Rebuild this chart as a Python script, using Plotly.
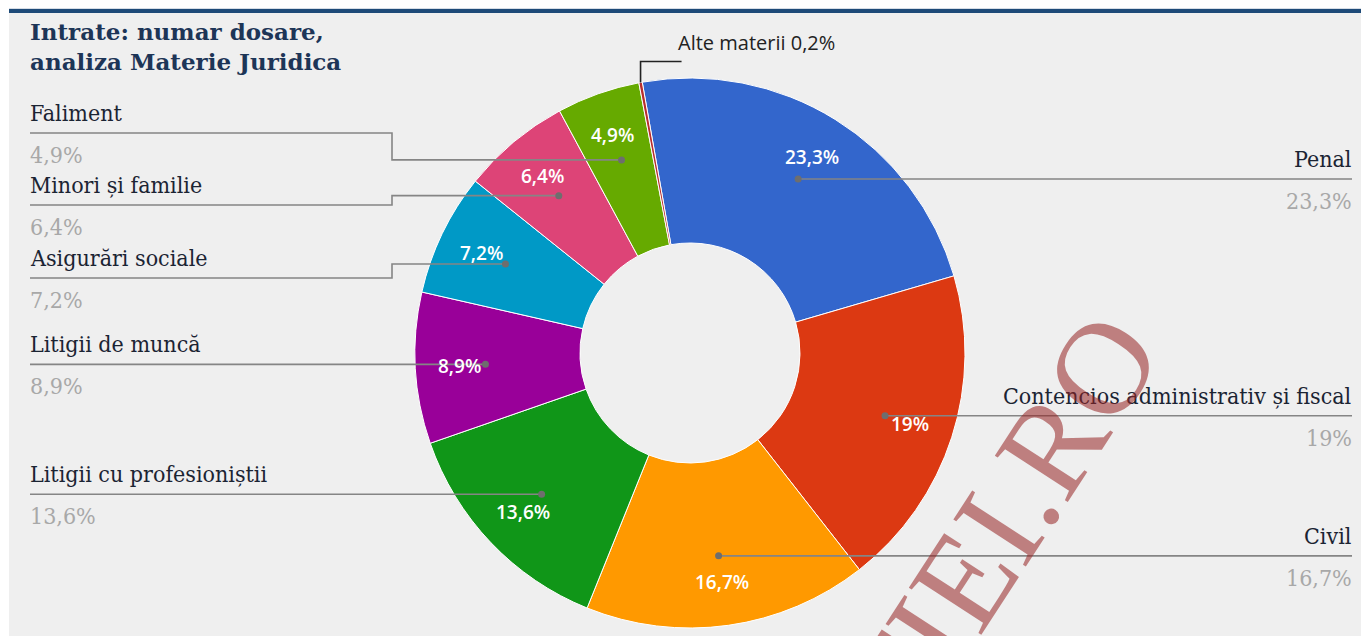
import math
import plotly.graph_objects as go

# ---- data -------------------------------------------------------------
categories = [
    "Penal",
    "Contencios administrativ și fiscal",
    "Civil",
    "Litigii cu profesioniștii",
    "Litigii de muncă",
    "Asigurări sociale",
    "Minori și familie",
    "Faliment",
    "Alte materii",
]
values = [23.3, 19, 16.7, 13.6, 8.9, 7.2, 6.4, 4.9, 0.2]
colors = ["#3366cc", "#dc3912", "#ff9900", "#109618", "#990099",
          "#0099c6", "#dd4477", "#66aa00", "#b82e2e"]

title_lines = ["Intrate: numar dosare,", "analiza Materie Juridica"]
watermark = "LUMEAJUSTITIEI.RO"

# ---- label arrangement --------------------------------------------------
right_labels = ["Penal", "Contencios administrativ și fiscal", "Civil"]
left_labels = ["Faliment", "Minori și familie", "Asigurări sociale",
               "Litigii de muncă", "Litigii cu profesioniștii"]
small_label = "Alte materii"
# label rows that are shifted away from their slice to avoid overlaps (px)
left_row_y = {"Faliment": 133, "Minori și familie": 205, "Asigurări sociale": 278}

# ---- geometry (pixels) --------------------------------------------------
W, H = 1361, 636
CX, CY, R = 690, 353, 275
HOLE = 0.4
START_ANGLE = -10
DOT_R = 0.745 * R
TEXT_R = 0.84 * R
LEFT_X, RIGHT_X, ELBOW_X = 30, 1352, 392

NAME_FONT = dict(family="DejaVu Serif Condensed, DejaVu Serif", size=23, color="#1b2433")
PCT_FONT = dict(family="DejaVu Serif Condensed, DejaVu Serif", size=23, color="#a8a8a8")
LINE_COLOR = "#858585"


def px(x):
    return x / W


def py(y):
    return 1 - y / H


def pct_text(v):
    return f"{v:g}".replace(".", ",") + "%"


total = sum(values)
mid_angle = {}
acc = START_ANGLE
for name, v in zip(categories, values):
    span = v / total * 360
    mid_angle[name] = acc + span / 2
    acc += span


def polar(name, r):
    a = math.radians(mid_angle[name])
    return CX + r * math.sin(a), CY - r * math.cos(a)


value_of = dict(zip(categories, values))

fig = go.Figure()
fig.add_trace(go.Pie(
    labels=categories,
    values=values,
    sort=False,
    direction="clockwise",
    rotation=START_ANGLE,
    hole=HOLE,
    marker=dict(colors=colors, line=dict(color="white", width=1)),
    textinfo="none",
    hoverinfo="label+percent",
    showlegend=False,
    domain=dict(x=[px(CX - R), px(CX + R)], y=[py(CY + R), py(CY - R)]),
))

shapes = []
annotations = []

# page frame: white margin strips and the dark rule on top
shapes.append(dict(type="rect", xref="paper", yref="paper", x0=0, x1=1,
                   y0=py(0), y1=py(8), fillcolor="white", line_width=0))
shapes.append(dict(type="rect", xref="paper", yref="paper", x0=0, x1=px(9),
                   y0=0, y1=1, fillcolor="white", line_width=0))
shapes.append(dict(type="rect", xref="paper", yref="paper", x0=px(9), x1=1,
                   y0=py(8), y1=py(9), fillcolor="#d6dde6", line_width=0))
shapes.append(dict(type="rect", xref="paper", yref="paper", x0=px(9), x1=1,
                   y0=py(9), y1=py(13), fillcolor="#1d4a78", line_width=0))


def add_dot(x, y, r=3.5):
    shapes.append(dict(type="circle", xref="paper", yref="paper",
                       x0=px(x - r), x1=px(x + r), y0=py(y + r), y1=py(y - r),
                       fillcolor="#6e6e6e", line_width=0))


def add_path(points, color=LINE_COLOR, width=1.6):
    d = "M " + " L ".join(f"{px(x)},{py(y)}" for x, y in points)
    shapes.append(dict(type="path", xref="paper", yref="paper", path=d,
                       line=dict(color=color, width=width)))


def add_side_label(name, row_y, side):
    # annotation boxes carry a little padding, so nudge the text outwards
    x = LEFT_X - 2 if side == "left" else RIGHT_X + 2
    anchor = "left" if side == "left" else "right"
    annotations.append(dict(xref="paper", yref="paper", x=px(x), y=py(row_y - 20),
                            text=name, showarrow=False, xanchor=anchor,
                            yanchor="middle", font=NAME_FONT))
    annotations.append(dict(xref="paper", yref="paper", x=px(x), y=py(row_y + 22),
                            text=pct_text(value_of[name]), showarrow=False,
                            xanchor=anchor, yanchor="middle", font=PCT_FONT))


# in-slice percentages, dots and leader lines
for name in right_labels + left_labels:
    tx, ty = polar(name, TEXT_R)
    annotations.append(dict(xref="paper", yref="paper", x=px(tx), y=py(ty),
                            text=pct_text(value_of[name]), showarrow=False,
                            xanchor="center", yanchor="middle",
                            font=dict(family="Open Sans", size=19, color="white",
                                      weight=600)))
    dx, dy = polar(name, DOT_R)
    if name in right_labels:
        add_path([(dx, dy), (RIGHT_X, dy)])
        add_side_label(name, dy, "right")
    else:
        row = left_row_y.get(name, dy)
        if row == dy:
            add_path([(LEFT_X, row), (dx, dy)])
        else:
            add_path([(LEFT_X, row), (ELBOW_X, row), (ELBOW_X, dy), (dx, dy)])
        add_side_label(name, row, "left")
    add_dot(dx, dy)

# the thin slice gets an outside callout
ex, ey = polar(small_label, R)
add_path([(ex, ey), (ex, ey - 21), (ex + 41, ey - 21)], color="#222222", width=1.6)
annotations.append(dict(xref="paper", yref="paper", x=px(ex + 35), y=py(ey - 40),
                        text=f"{small_label} {pct_text(value_of[small_label])}",
                        showarrow=False, xanchor="left", yanchor="middle",
                        font=dict(family="Open Sans", size=20, color="#222222")))

# title
annotations.append(dict(xref="paper", yref="paper", x=px(LEFT_X - 2), y=py(16),
                        text="<br>".join(title_lines), showarrow=False,
                        xanchor="left", yanchor="top", align="left",
                        font=dict(family="DejaVu Serif", size=23, color="#1d3557",
                                  weight="bold")))

# site watermark
annotations.append(dict(xref="paper", yref="paper", x=px(779), y=py(864),
                        text=watermark, showarrow=False, textangle=-57,
                        xanchor="center", yanchor="middle",
                        font=dict(family="Liberation Serif", size=132,
                                  color="rgba(150,35,35,0.55)")))

fig.update_layout(
    width=W, height=H,
    margin=dict(l=0, r=0, t=0, b=0),
    paper_bgcolor="#efefef",
    plot_bgcolor="#efefef",
    shapes=shapes,
    annotations=annotations,
)

fig.write_html("out.html")
